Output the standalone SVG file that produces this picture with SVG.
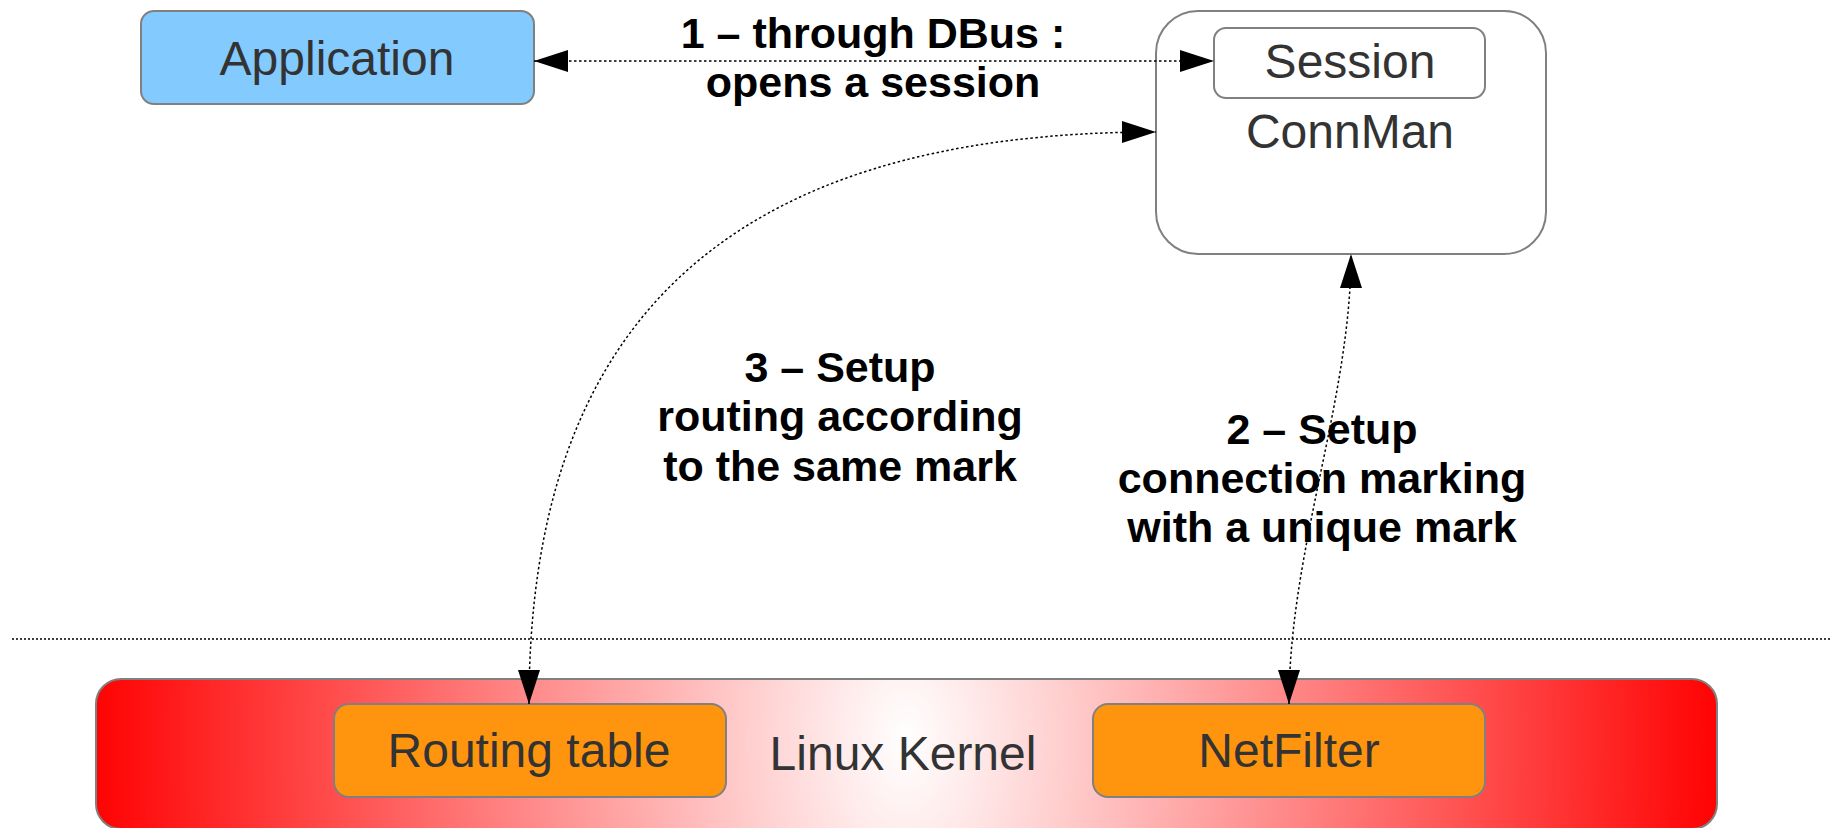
<svg xmlns="http://www.w3.org/2000/svg" width="1831" height="828" viewBox="0 0 1831 828">
<style>
.node{stroke:#808080;stroke-width:2}
.ntext{font-family:"Liberation Sans",Arial,sans-serif;font-size:48px;fill:#333333;text-anchor:middle}
.lbl{font-family:"Liberation Sans",Arial,sans-serif;font-size:43px;font-weight:bold;fill:#000000;text-anchor:middle}
.conn{fill:none;stroke:#000000;stroke-width:1.5;stroke-dasharray:2.5 2.5}
</style>
<defs>
<marker id="arr" viewBox="0 0 34 22" refX="34" refY="11" markerWidth="34" markerHeight="22" markerUnits="userSpaceOnUse" orient="auto-start-reverse">
<path d="M0,0 L34,11 L0,22 z" fill="#000000"/>
</marker>
<radialGradient id="kgrad" gradientUnits="userSpaceOnUse" cx="906" cy="740" r="820" gradientTransform="translate(0,740) scale(1,1.6) translate(0,-740)">
<stop offset="0" stop-color="#ffffff"/>
<stop offset="1" stop-color="#ff0000"/>
</radialGradient>
</defs>
<rect width="1831" height="828" fill="#ffffff"/>
<line x1="12" y1="639" x2="1831" y2="639" stroke="#000000" stroke-width="1.5" stroke-dasharray="2 2"/>
<g id="kernel">
<rect class="node" x="96" y="679" width="1621" height="150" rx="25" fill="url(#kgrad)"/>
<text class="ntext" x="903" y="770">Linux Kernel</text>
</g>
<g id="routing">
<rect class="node" x="334" y="704" width="392" height="93" rx="15" fill="#ff950e"/>
<text class="ntext" x="529" y="767">Routing table</text>
</g>
<g id="netfilter">
<rect class="node" x="1093" y="704" width="392" height="93" rx="15" fill="#ff950e"/>
<text class="ntext" x="1289" y="767">NetFilter</text>
</g>
<g id="application">
<rect class="node" x="141" y="11" width="393" height="93" rx="13" fill="#83caff"/>
<text class="ntext" x="337" y="75">Application</text>
</g>
<g id="connman">
<rect class="node" x="1156" y="11" width="390" height="243" rx="42" fill="#ffffff"/>
<text class="ntext" x="1350" y="148">ConnMan</text>
</g>
<g id="session">
<rect class="node" x="1214" y="28" width="271" height="70" rx="12" fill="#ffffff"/>
<text class="ntext" x="1350" y="78">Session</text>
</g>
<g id="connectors">
<path class="conn" d="M534,61 L1214,61" marker-start="url(#arr)" marker-end="url(#arr)"/>
<path class="conn" d="M529,704 C529,330 720,132 1156,132" marker-start="url(#arr)" marker-end="url(#arr)"/>
<path class="conn" d="M1289,704 C1289,550 1351,400 1351,254" marker-start="url(#arr)" marker-end="url(#arr)"/>
</g>
<g id="labels">
<text class="lbl" x="873" y="48">1 – through DBus :</text>
<text class="lbl" x="873" y="97">opens a session</text>
<text class="lbl" x="840" y="382">3 – Setup</text>
<text class="lbl" x="840" y="431">routing according</text>
<text class="lbl" x="840" y="481">to the same mark</text>
<text class="lbl" x="1322" y="444">2 – Setup</text>
<text class="lbl" x="1322" y="493">connection marking</text>
<text class="lbl" x="1322" y="542">with a unique mark</text>
</g>
</svg>
